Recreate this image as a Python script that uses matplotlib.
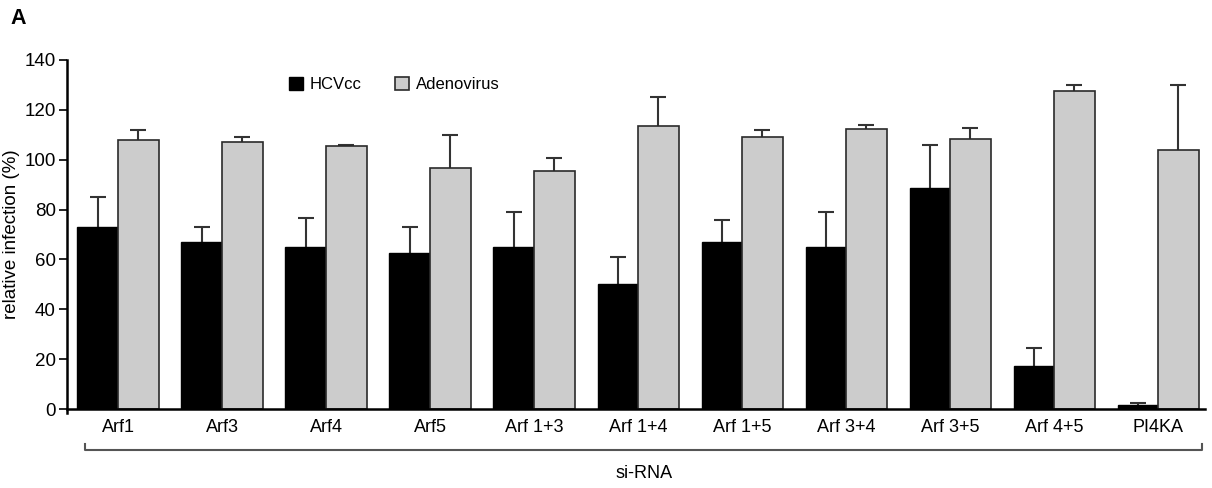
import matplotlib
matplotlib.use("Agg")
import matplotlib.pyplot as plt
import numpy as np

plt.rcParams['font.family'] = ['Liberation Sans', 'DejaVu Sans']

categories = ["Arf1", "Arf3", "Arf4", "Arf5", "Arf 1+3", "Arf 1+4", "Arf 1+5",
              "Arf 3+4", "Arf 3+5", "Arf 4+5", "PI4KA"]
hcv = [73, 67, 65, 62.5, 65, 50, 67, 65, 88.5, 17.4, 1.6]
hcv_err = [12, 6, 11.5, 10.5, 14, 11, 9, 14, 17.5, 7.2, 0.7]
adeno = [108, 107, 105.5, 96.5, 95.5, 113.5, 109, 112.4, 108.5, 127.7, 103.7]
adeno_err = [4, 2, 0.6, 13.5, 5, 11.5, 3, 1.5, 4.2, 2.2, 26.3]
yticks = [0, 20, 40, 60, 80, 100, 120, 140]

fig = plt.figure(figsize=(12.12, 4.88), dpi=100)
ax = fig.add_axes([67/1212, (488-409)/488, (1205-67)/1212, 349/488])

x = np.arange(len(categories))
w = 0.39
ax.bar(x - w/2, hcv, w, color='black', edgecolor='black', linewidth=1,
       label='HCVcc', zorder=2)
ax.bar(x + w/2, adeno, w, color='#cccccc', edgecolor='#2a2a2a', linewidth=1.2,
       label='Adenovirus', zorder=2)

ekw = dict(fmt='none', ecolor='#333333', elinewidth=1.5, capsize=6, capthick=1.5, zorder=1)
for xs, vals, errs in [(x - w/2, hcv, hcv_err), (x + w/2, adeno, adeno_err)]:
    eb = ax.errorbar(xs, vals, yerr=[np.zeros(len(vals)), errs], **ekw)
    caps = eb[1]
    if len(caps) >= 2:
        caps[0].set_visible(False)

ax.set_xlim(-0.49, 10.45)
ax.set_ylim(0, 140)
ax.set_yticks(yticks)
ax.set_xticks(x)
ax.set_xticklabels(categories, fontsize=13)
ax.tick_params(axis='x', length=0, pad=7)
ax.tick_params(axis='y', labelsize=13.5, length=6, width=1.2, direction='out', pad=2)
for s in ['top', 'right']:
    ax.spines[s].set_visible(False)
ax.spines['left'].set_linewidth(1.8)
ax.spines['bottom'].set_linewidth(1.8)
ax.spines['left'].set_bounds(-1.5, 140)
ax.set_ylabel('relative infection (%)', fontsize=13.5, labelpad=3)

leg = ax.legend(loc='upper left', bbox_to_anchor=(0.182, 0.995), ncol=2, frameon=False,
                fontsize=12, handlelength=0.85, handleheight=0.85, columnspacing=2.0, handletextpad=0.4)

# bracket for si-RNA
tr = ax.get_xaxis_transform()
yb = (409 - 450) / 349
yt = (409 - 444) / 349
xl = -0.49 + (85 - 67) / 104
xr = -0.49 + (1202 - 67) / 104
ax.plot([xl, xl, xr, xr], [yt, yb, yb, yt], transform=tr, color='#555555', lw=1.5, clip_on=False)
ax.text((xl + xr) / 2, (409 - 474) / 349, 'si-RNA', transform=tr, ha='center', va='center', fontsize=13)

fig.text(10/1212, 1 - 19/488, 'A', fontsize=15.5, fontweight='bold', va='center', ha='left')

fig.savefig('out.png', dpi=100)
